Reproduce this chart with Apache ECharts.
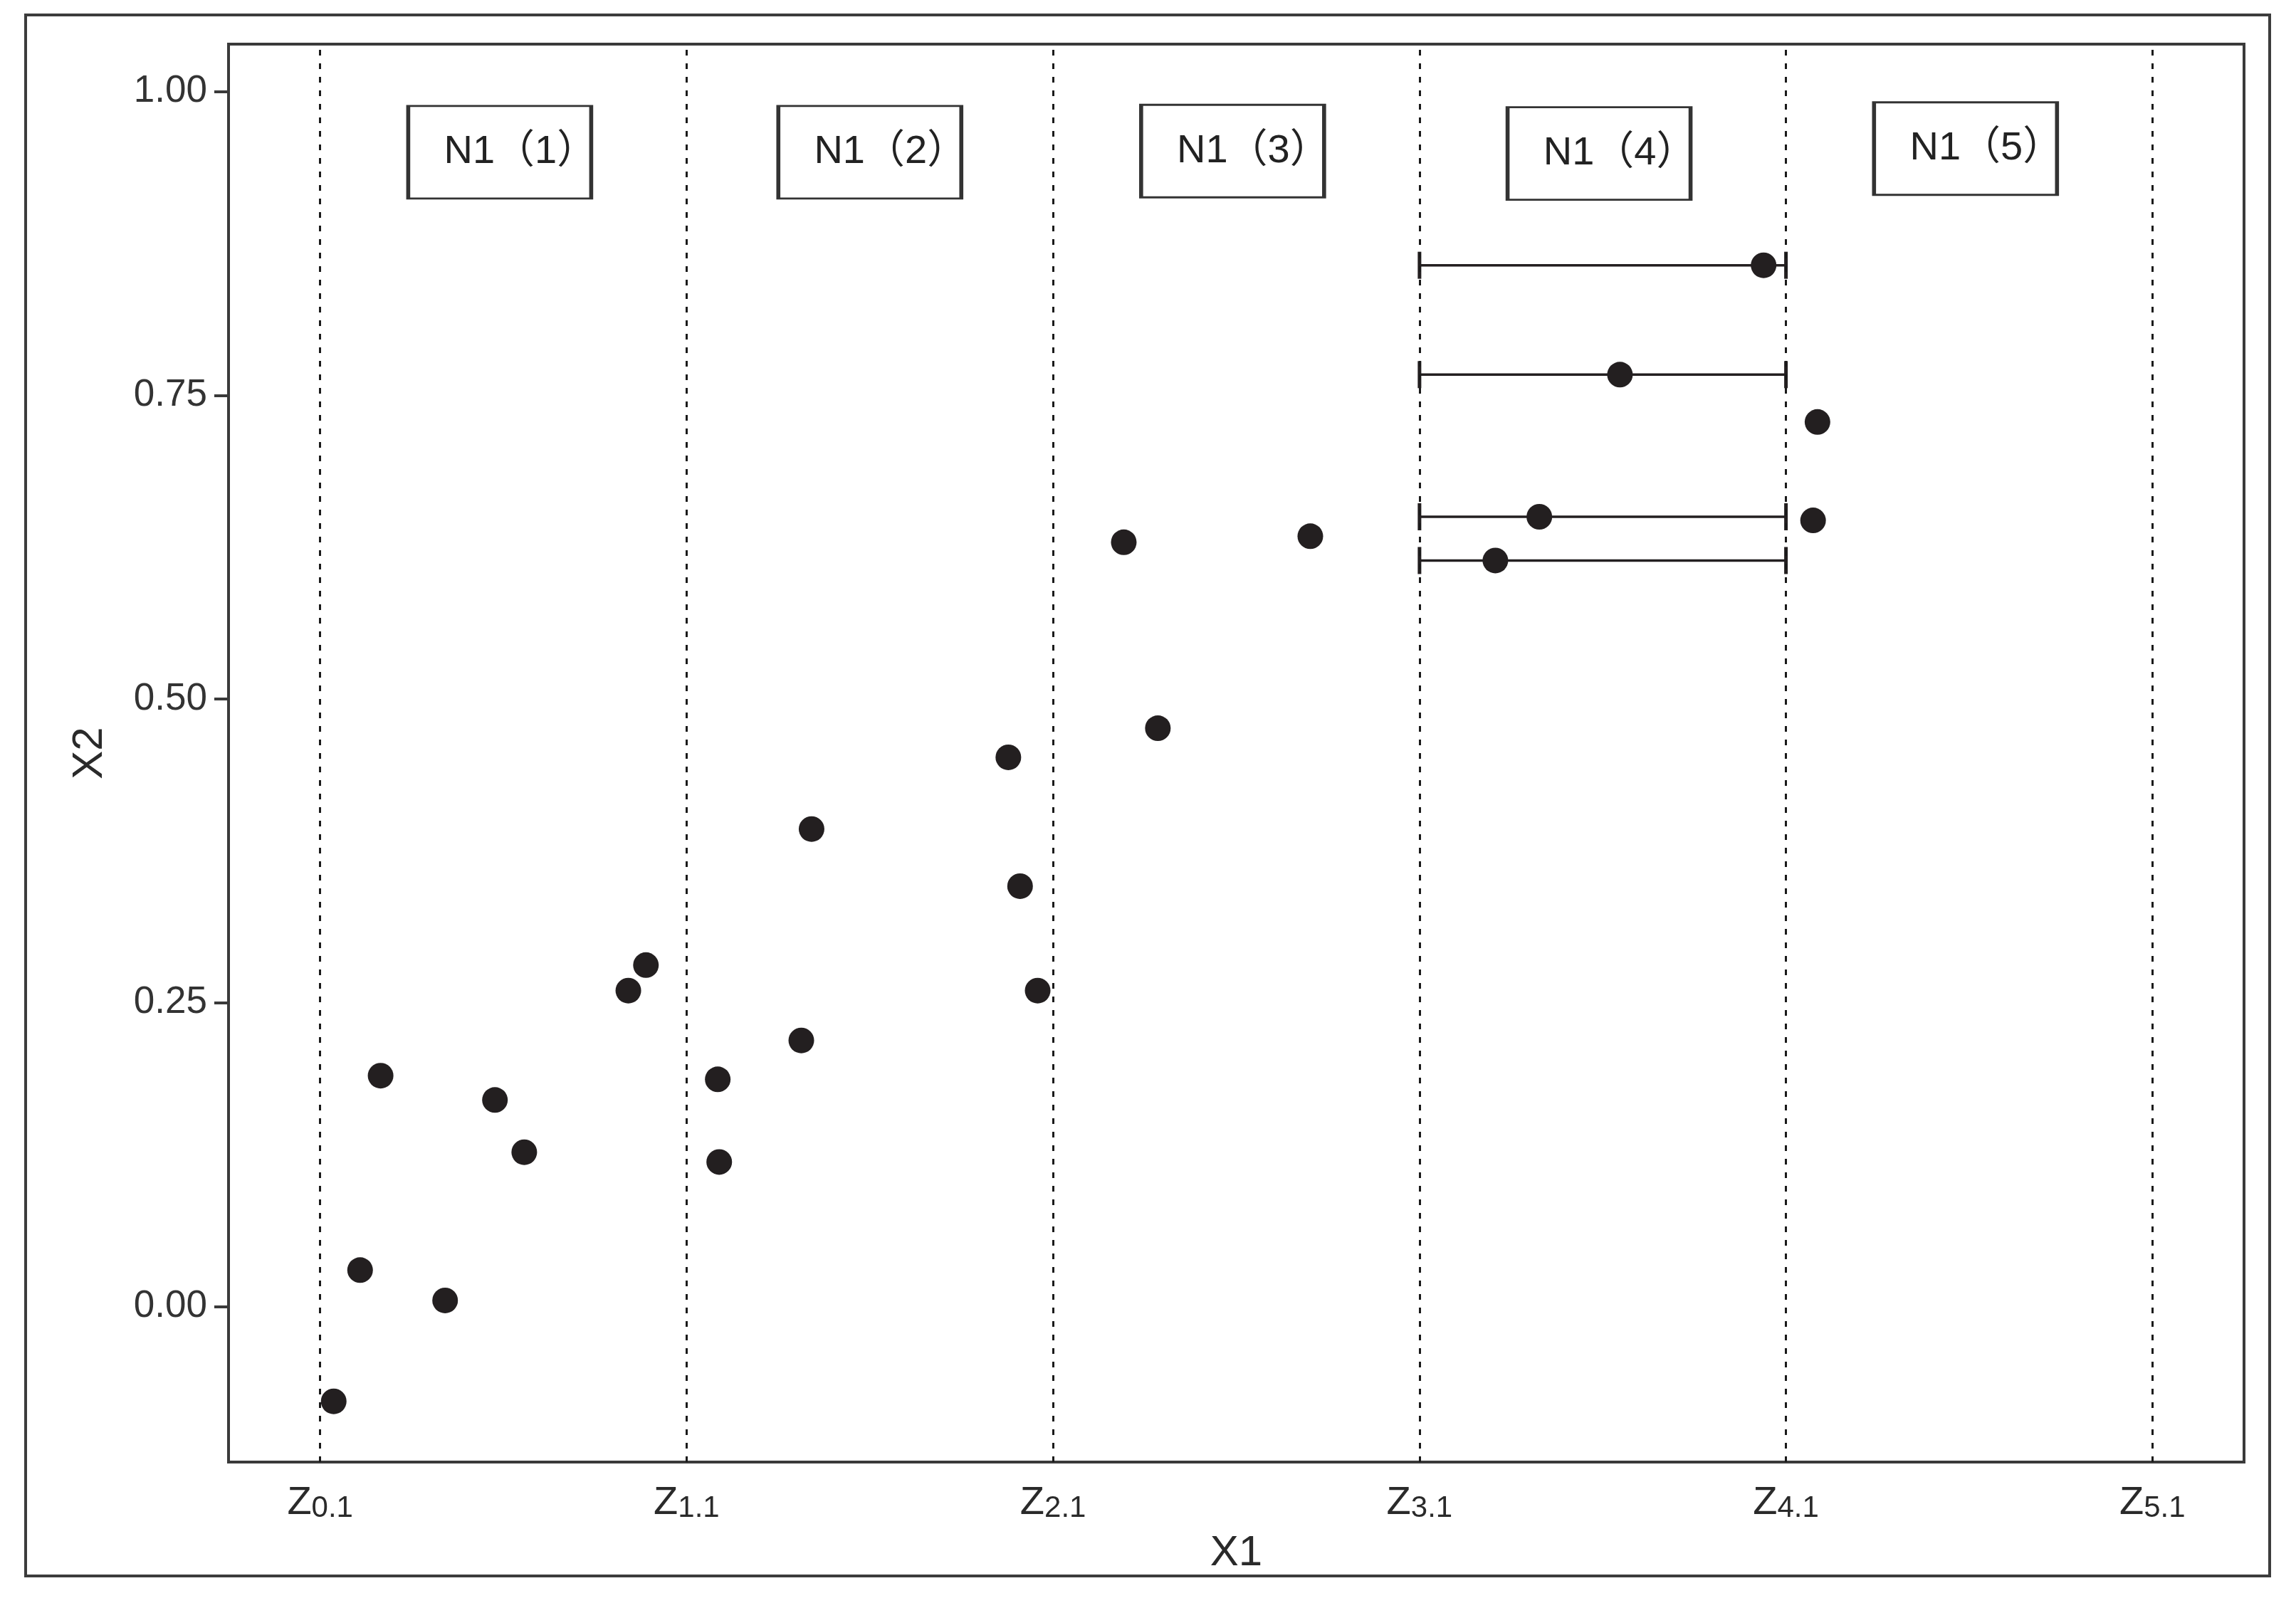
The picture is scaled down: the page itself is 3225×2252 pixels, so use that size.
<!DOCTYPE html>
<html>
<head>
<meta charset="utf-8">
<script src="https://cdn.jsdelivr.net/npm/echarts@6/dist/echarts.min.js"></script>
<style>
html,body{margin:0;padding:0;background:#fff;}
#chart{width:3225px;height:2252px;}
</style>
</head>
<body>
<div id="chart"></div>
<script>
// ---- data ----
const xTickValues = [0, 1, 2, 3, 4, 5];
const xTickSubs = ['0.1', '1.1', '2.1', '3.1', '4.1', '5.1'];
const yTickValues = [0, 0.25, 0.5, 0.75, 1.0];

const pointX = [0.037, 0.109, 0.165, 0.341, 0.477, 0.557, 0.841, 0.889,
                1.085, 1.089, 1.313, 1.341, 1.878, 1.910, 1.958,
                2.193, 2.286, 2.702, 3.207, 3.327, 3.547, 3.939, 4.074, 4.086];
const pointY = [-0.078, 0.030, 0.190, 0.005, 0.170, 0.127, 0.260, 0.281,
                0.187, 0.119, 0.219, 0.393, 0.452, 0.346, 0.260,
                0.629, 0.476, 0.634, 0.614, 0.650, 0.767, 0.857, 0.647, 0.728];

const errLow = [3, 3, 3, 3];
const errHigh = [4, 4, 4, 4];
const errY = [0.857, 0.767, 0.650, 0.614];

const boxX = [0.49, 1.50, 2.49, 3.49, 4.49];
const boxY = [0.950, 0.950, 0.951, 0.949, 0.953];
const boxLabels = ['N1（1）', 'N1（2）', 'N1（3）', 'N1（4）', 'N1（5）'];

// ---- chart ----
const FONT = "'Liberation Sans', Arial, 'Noto Sans CJK SC', sans-serif";
const INK = '#231f20';
const FRAME = '#3a3a3a';

const chart = echarts.init(document.getElementById('chart'), null, {renderer: 'canvas'});

const points = pointX.map((x, i) => [x, pointY[i]]);
const errData = errLow.map((l, i) => [l, errHigh[i], errY[i]]);
const boxData = boxX.map((x, i) => ({value: [x, boxY[i]], name: boxLabels[i]}));

chart.setOption({
  backgroundColor: '#ffffff',
  animation: false,
  graphic: [{
    type: 'rect',
    shape: {x: 36, y: 21, width: 3152, height: 2193},
    style: {fill: 'none', stroke: '#3c3c3c', lineWidth: 4},
    silent: true
  }],
  grid: {
    left: 321, top: 62, right: 73, bottom: 198,
    show: true, borderColor: FRAME, borderWidth: 4, backgroundColor: 'transparent'
  },
  xAxis: {
    type: 'value', min: -0.25, max: 5.25,
    name: 'X1', nameLocation: 'middle', nameGap: 98,
    nameTextStyle: {fontFamily: FONT, fontSize: 60, color: '#2a2a2a'},
    axisLine: {show: true, onZero: false, lineStyle: {color: FRAME, width: 4}},
    axisTick: {show: false},
    splitLine: {show: false},
    axisLabel: {
      customValues: xTickValues,
      margin: 26,
      formatter: function (v) {
        const i = xTickValues.indexOf(v);
        return i < 0 ? '' : '{z|Z}{s|' + xTickSubs[i] + '}';
      },
      rich: {
        z: {fontFamily: FONT, fontSize: 56, color: '#2a2a2a', verticalAlign: 'bottom', lineHeight: 60},
        s: {fontFamily: FONT, fontSize: 42, color: '#2a2a2a', verticalAlign: 'bottom', lineHeight: 60}
      }
    }
  },
  yAxis: {
    type: 'value', min: -0.128, max: 1.039,
    name: 'X2', nameLocation: 'middle', nameGap: 165,
    nameTextStyle: {fontFamily: FONT, fontSize: 60, color: '#2a2a2a'},
    axisLine: {show: true, onZero: false, lineStyle: {color: FRAME, width: 4}},
    axisTick: {show: true, inside: false, length: 20, customValues: yTickValues,
               lineStyle: {color: FRAME, width: 4}},
    splitLine: {show: false},
    axisLabel: {
      customValues: yTickValues,
      margin: 30,
      fontFamily: FONT, fontSize: 53, color: '#333',
      formatter: v => v.toFixed(2)
    }
  },
  series: [
    {
      type: 'scatter',
      name: 'dividers',
      data: [],
      silent: true,
      markLine: {
        silent: true,
        symbol: ['none', 'none'],
        label: {show: false},
        lineStyle: {color: '#1a1a1a', width: 3, type: [8, 11]},
        emphasis: {disabled: true},
        data: xTickValues.map(v => ({xAxis: v}))
      },
      z: 1
    },
    {
      type: 'scatter',
      name: 'boxes',
      data: boxData,
      symbol: 'rect',
      symbolSize: [257, 130],
      silent: true,
      itemStyle: {color: '#ffffff', borderColor: '#333', borderWidth: 4, opacity: 1},
      label: {
        show: true, position: 'inside', offset: [29, 0],
        formatter: p => p.name,
        fontFamily: FONT, fontSize: 56, color: '#222'
      },
      emphasis: {disabled: true},
      z: 3
    },
    {
      type: 'custom',
      name: 'errorbars',
      data: errData,
      encode: {x: [0, 1], y: 2},
      silent: true,
      renderItem: function (params, api) {
        const y = api.value(2);
        const p1 = api.coord([api.value(0), y]);
        const p2 = api.coord([api.value(1), y]);
        const h = 19;
        const st = {stroke: INK, lineWidth: 3.5};
        const cap = {stroke: INK, lineWidth: 5};
        return {
          type: 'group',
          children: [
            {type: 'line', shape: {x1: p1[0], y1: p1[1], x2: p2[0], y2: p2[1]}, style: st},
            {type: 'line', shape: {x1: p1[0], y1: p1[1] - h, x2: p1[0], y2: p1[1] + h}, style: cap},
            {type: 'line', shape: {x1: p2[0], y1: p2[1] - h, x2: p2[0], y2: p2[1] + h}, style: cap}
          ]
        };
      },
      z: 4
    },
    {
      type: 'scatter',
      name: 'points',
      data: points,
      symbol: 'circle',
      symbolSize: 36,
      itemStyle: {color: INK, opacity: 1},
      emphasis: {disabled: true},
      z: 5
    }
  ]
});
</script>
</body>
</html>
